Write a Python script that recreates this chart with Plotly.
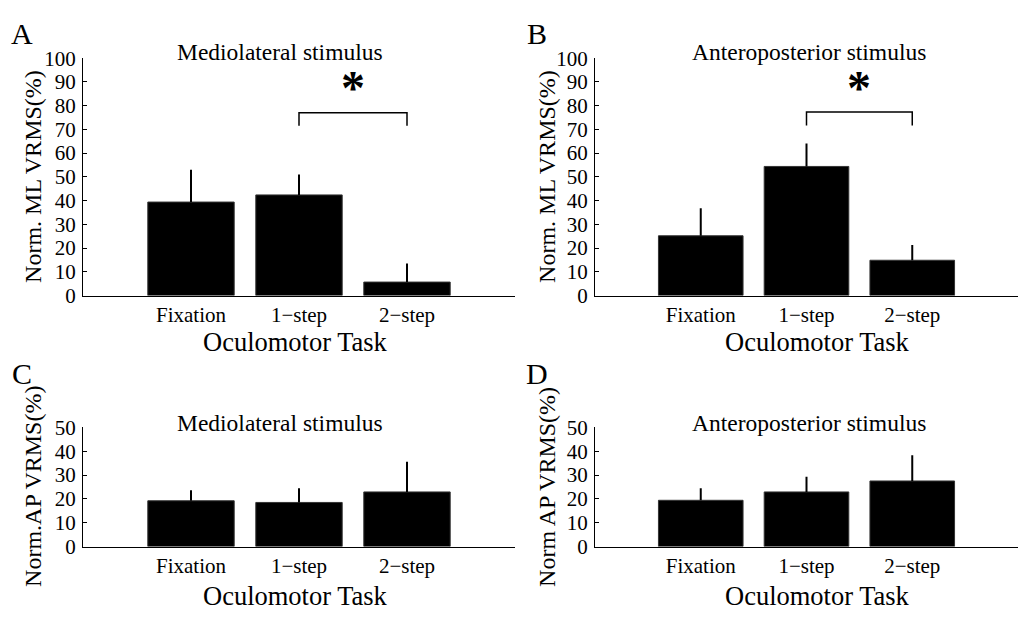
import plotly.graph_objects as go

W, H = 1034, 622

categories = ["Fixation", "1\u2212step", "2\u2212step"]
cat_pos = [1, 2, 3]

# Panel values (mean) and upper error (SD)
a_vals = [39.4, 42.4, 5.7]
a_err = [13.6, 8.6, 7.8]
b_vals = [25.2, 54.4, 14.9]
b_err = [11.6, 9.7, 6.4]
c_vals = [19.2, 18.5, 22.9]
c_err = [4.4, 6.0, 12.7]
d_vals = [19.4, 22.9, 27.5]
d_err = [5.1, 6.4, 10.8]

# significance brackets (A and B): between 1-step and 2-step
bracket_x = [2, 2, 3, 3]
a_bracket_y = [71.5, 77, 77, 71.5]
b_bracket_y = [71.6, 77.3, 77.3, 71.6]
a_star_y = 85
b_star_y = 85

panel_titles = ["Mediolateral stimulus", "Anteroposterior stimulus",
                "Mediolateral stimulus", "Anteroposterior stimulus"]
y_titles = ["Norm. ML VRMS(%)", "Norm. ML VRMS(%)",
            "Norm.AP VRMS(%)", "Norm AP VRMS(%)"]
x_title = "Oculomotor Task"
letters = ["A", "B", "C", "D"]
y_ranges = [[0, 100], [0, 100], [0, 50], [0, 50]]
y_ticks = [list(range(0, 101, 10)), list(range(0, 101, 10)),
           list(range(0, 51, 10)), list(range(0, 51, 10))]

FONT = "Liberation Serif, Times New Roman, serif"

# pixel geometry of each plot area (left, right, top, bottom)
boxes = [(83, 515, 48, 295), (595, 1018, 48, 295),
         (83, 515, 432, 556), (595, 1018, 432, 556)]

fig = go.Figure()
all_vals = [a_vals, b_vals, c_vals, d_vals]
all_err = [a_err, b_err, c_err, d_err]

for i in range(4):
    sfx = "" if i == 0 else str(i + 1)
    fig.add_trace(go.Bar(
        x=cat_pos, y=all_vals[i], width=0.8,
        marker=dict(color="black", line=dict(color="#333333", width=1)),
        error_y=dict(type="data", symmetric=False, array=all_err[i],
                     arrayminus=[0, 0, 0], color="black", thickness=2, width=0),
        xaxis="x" + sfx, yaxis="y" + sfx, showlegend=False,
    ))

for i, by in enumerate([a_bracket_y, b_bracket_y]):
    sfx = "" if i == 0 else str(i + 1)
    fig.add_trace(go.Scatter(
        x=bracket_x, y=by, mode="lines",
        line=dict(color="black", width=1.5),
        xaxis="x" + sfx, yaxis="y" + sfx, showlegend=False, hoverinfo="skip",
    ))

layout = dict(
    width=W, height=H, margin=dict(l=0, r=0, t=0, b=0),
    paper_bgcolor="white", plot_bgcolor="white",
    font=dict(family=FONT, color="black"),
    bargap=0.2,
)

annotations = []
for i, (l, r, t, b) in enumerate(boxes):
    sfx = "" if i == 0 else str(i + 1)
    xd = [l / W, r / W]
    yd = [1 - b / H, 1 - t / H]
    layout["xaxis" + sfx] = dict(
        domain=xd, range=[0, 4], tickvals=cat_pos, ticktext=categories,
        showline=True, linecolor="black", linewidth=1, ticks="",
        showgrid=False, zeroline=False, fixedrange=True,
        tickfont=dict(size=21, family=FONT, color="black"),
        ticklabelstandoff=0,
        anchor="y" + sfx,
    )
    layout["yaxis" + sfx] = dict(
        domain=yd, range=y_ranges[i], tickvals=y_ticks[i],
        showline=True, linecolor="black", linewidth=1,
        ticks="inside", ticklen=4, tickcolor="black",
        showgrid=False, zeroline=False, fixedrange=True,
        tickfont=dict(size=21, family=FONT, color="black"),
        ticklabelstandoff=2,
        anchor="x" + sfx,
    )
    # panel title
    ty = 42 if i < 2 else 428
    tx = 280 if i % 2 == 0 else 809
    annotations.append(dict(text=panel_titles[i], x=tx / W, y=1 - ty / H,
                            xref="paper", yref="paper", showarrow=False,
                            xanchor="center", yanchor="middle",
                            font=dict(size=23.5, family=FONT, color="black")))
    # y axis title
    yx = 33 if i % 2 == 0 else 547
    annotations.append(dict(text=y_titles[i], x=yx / W, y=1 - ((t + b) / 2) / H,
                            xref="paper", yref="paper", showarrow=False,
                            textangle=-90, xanchor="center", yanchor="middle",
                            font=dict(size=24, family=FONT, color="black")))
    # x axis title
    xy = 343 if i < 2 else 607
    xx = 295 if i % 2 == 0 else 817
    annotations.append(dict(text=x_title, x=xx / W, y=1 - xy / H,
                            xref="paper", yref="paper", showarrow=False,
                            xanchor="center", yanchor="middle",
                            font=dict(size=26.5, family=FONT, color="black")))
    # panel letter
    lx = 22 if i % 2 == 0 else 537
    ly = 22 if i < 2 else 376
    annotations.append(dict(text=letters[i], x=lx / W, y=1 - ly / H,
                            xref="paper", yref="paper", showarrow=False,
                            xanchor="center", yanchor="middle",
                            font=dict(size=30, family=FONT, color="black")))

for i, sy in enumerate([a_star_y, b_star_y]):
    sfx = "" if i == 0 else str(i + 1)
    annotations.append(dict(text="<b>*</b>", x=2.5, y=sy,
                            xref="x" + sfx, yref="y" + sfx, showarrow=False,
                            xanchor="center", yanchor="middle", yshift=6,
                            font=dict(size=48, family=FONT, color="black")))

layout["annotations"] = annotations
fig.update_layout(**layout)
fig.write_html("out.html")
